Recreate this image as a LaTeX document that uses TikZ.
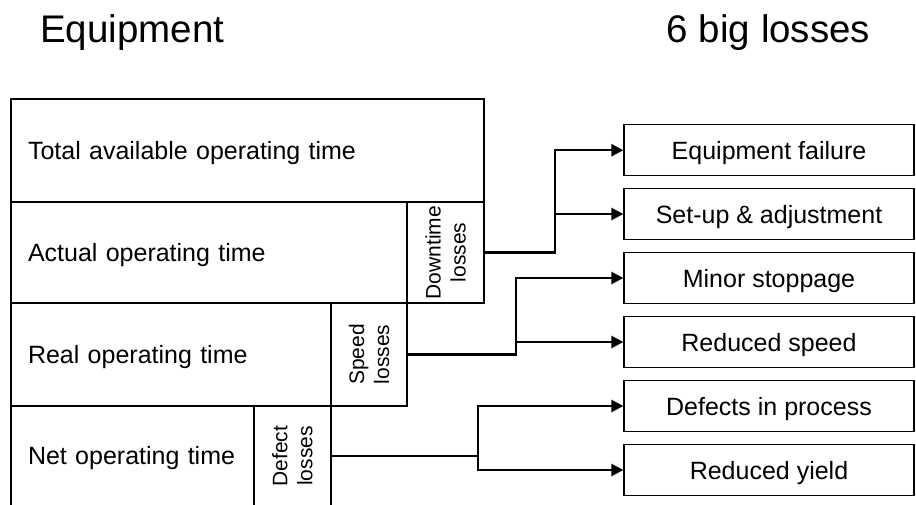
\documentclass[tikz,border=0pt]{standalone}
\usepackage{fontspec}
\setmainfont{Liberation Sans}
\usetikzlibrary{arrows.meta}
\tikzset{
  box/.style={draw, line width=1.3pt, rectangle, inner sep=0pt},
  leftbox/.style={box, align=left, inner xsep=17pt, text height=17.5pt, text depth=0pt, font=\fontsize{25}{30}\selectfont},
  lossbox/.style={box},
  losstext/.style={rotate=90, align=center, inner sep=0pt, font=\fontsize{21}{25}\selectfont},
  lossright/.style={box, minimum width=290pt, minimum height=51pt, text height=18.5pt, text depth=0pt, font=\fontsize{25}{30}\selectfont},
  conn/.style={line width=2.4pt, line join=miter},
  arr/.style={conn, -{Triangle[length=12pt,width=12pt]}},
  heading/.style={anchor=base west, inner sep=0pt, font=\fontsize{38.5}{46}\selectfont}
}
\begin{document}
\begin{tikzpicture}[x=1pt,y=-1pt]
\useasboundingbox (0,0) rectangle (916,504);
% headings
\node[heading] (h1) at (40,42.7) {Equipment};
\node[heading] (h2) at (666.7,42.7) {6 big losses};
% left stack
\node[leftbox, minimum width=473pt, minimum height=103pt, text width=439pt] (tot) at (247.5,150.5) {Total available operating time};
\node[leftbox, minimum width=396pt, minimum height=101pt, text width=362pt] (act) at (209,252.5) {Actual operating time};
\node[lossbox, minimum width=77pt, minimum height=101pt] (dt) at (445.5,252.5) {};
\node[losstext] (dtt) at (dt.center) {Downtime\\losses};
\node[leftbox, minimum width=320pt, minimum height=103pt, text width=286pt] (real) at (171,354.5) {Real operating time};
\node[lossbox, minimum width=76pt, minimum height=103pt] (sp) at (369,354.5) {};
\node[losstext] (spt) at (sp.center) {Speed\\losses};
\node[leftbox, minimum width=243pt, minimum height=100pt, text width=209pt] (net) at (132.5,456) {Net operating time};
\node[lossbox, minimum width=77pt, minimum height=100pt] (df) at (292.5,456) {};
\node[losstext] (dft) at (df.center) {Defect\\losses};
% right boxes
\node[lossright] (ef) at (769,150.2) {Equipment failure};
\node[lossright] (su) at (769,214) {Set-up \& adjustment};
\node[lossright] (ms) at (769,278) {Minor stoppage};
\node[lossright] (rs) at (769,342) {Reduced speed};
\node[lossright] (dp) at (769,406) {Defects in process};
\node[lossright] (ry) at (769,470) {Reduced yield};
% connectors
\coordinate (j1) at (555,252.5);
\coordinate (j2) at (516,354.5);
\coordinate (j3) at (478,456);
\draw[arr] (dt.east) -- (j1) |- (ef.west);
\draw[arr] (j1 |- su.west) -- (su.west);
\draw[arr] (sp.east) -- (j2) |- (ms.west);
\draw[arr] (j2 |- rs.west) -- (rs.west);
\draw[arr] (df.east) -- (j3) |- (dp.west);
\draw[arr] (j3) |- (ry.west);
\end{tikzpicture}
\end{document}
